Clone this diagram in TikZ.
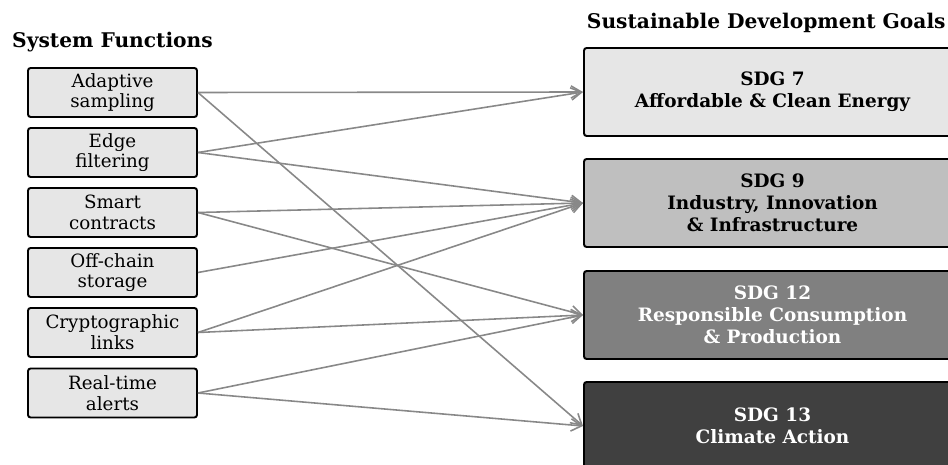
\documentclass[tikz,border=0pt]{standalone}
\usepackage{fontspec}
\setmainfont{DejaVu Serif}
\usetikzlibrary{arrows.meta}
\definecolor{paleash}{RGB}{230,230,230}
\definecolor{silverash}{RGB}{191,191,191}
\definecolor{midash}{RGB}{128,128,128}
\definecolor{darkash}{RGB}{64,64,64}
\definecolor{linkgray}{RGB}{136,136,136}
\tikzset{funcbox/.style={draw=black,line width=1.1pt,rounded corners=1.5pt,fill=paleash,minimum width=3.38cm,minimum height=0.98cm,inner sep=0pt,align=center,font=\fontsize{10.4}{11.8}\selectfont}}
\tikzset{goalbox/.style={draw=black,line width=1.1pt,rounded corners=1.5pt,minimum width=7.54cm,minimum height=1.76cm,inner sep=0pt,align=center,font=\fontsize{10.5}{12.6}\selectfont\bfseries}}
\tikzset{headline/.style={font=\fontsize{11.5}{13.5}\selectfont\bfseries,inner sep=0pt}}
\tikzset{maplink/.style={-{Straight Barb[length=6pt,width=7pt,line width=0.9pt]},linkgray,line width=0.9pt}}

\begin{document}
\begin{tikzpicture}
	\useasboundingbox (0,0) rectangle (18.96,-9.30);
	\node[headline,anchor=base] (fhead) at (2.25,-0.946) {System Functions};
	\node[headline,anchor=base east] (ghead) at (18.92,-0.58) {Sustainable Development Goals};
	\node[funcbox] (f1) at (2.25,-1.85) {Adaptive\\sampling};
	\node[funcbox] (f2) at (2.25,-3.05) {Edge\\filtering};
	\node[funcbox] (f3) at (2.25,-4.25) {Smart\\contracts};
	\node[funcbox] (f4) at (2.25,-5.45) {Off-chain\\storage};
	\node[funcbox] (f5) at (2.25,-6.65) {Cryptographic\\links};
	\node[funcbox] (f6) at (2.25,-7.86) {Real-time\\alerts};
	\node[goalbox,fill=paleash] (g7) at (15.45,-1.84) {SDG 7\\Affordable \& Clean Energy};
	\node[goalbox,fill=silverash] (g9) at (15.45,-4.06) {SDG 9\\Industry, Innovation\\\& Infrastructure};
	\node[goalbox,fill=midash,text=white] (g12) at (15.45,-6.30) {SDG 12\\Responsible Consumption\\\& Production};
	\node[goalbox,fill=darkash,text=white] (g13) at (15.45,-8.52) {SDG 13\\Climate Action};
	\draw[maplink] (f1.east) -- (g7.west);
	\draw[maplink] (f1.east) -- (g13.west);
	\draw[maplink] (f2.east) -- (g7.west);
	\draw[maplink] (f2.east) -- (g9.west);
	\draw[maplink] (f3.east) -- (g9.west);
	\draw[maplink] (f3.east) -- (g12.west);
	\draw[maplink] (f4.east) -- (g9.west);
	\draw[maplink] (f5.east) -- (g9.west);
	\draw[maplink] (f5.east) -- (g12.west);
	\draw[maplink] (f6.east) -- (g12.west);
	\draw[maplink] (f6.east) -- (g13.west);
\end{tikzpicture}
\end{document}
